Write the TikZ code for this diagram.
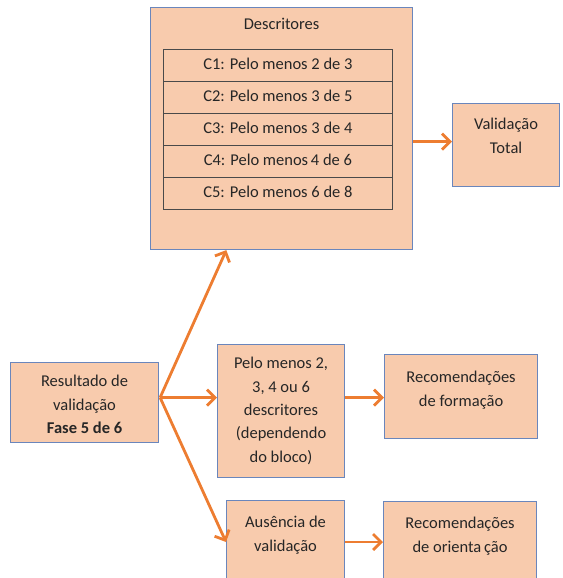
\documentclass[tikz,border=0pt]{standalone}
\usepackage{fontspec}
\setmainfont{Carlito}
\usetikzlibrary{arrows.meta,calc}
\definecolor{boxfill}{HTML}{F8CBAD}
\definecolor{boxline}{HTML}{6A86BC}
\definecolor{arr}{HTML}{ED7D31}
\definecolor{rowline}{HTML}{4A4A4A}
\begin{document}
\begin{tikzpicture}[x=1pt,y=-1pt,
  every node/.style={font=\fontsize{16.5}{23.4}\selectfont, text=black!85},
  box/.style={draw=boxline, line width=1.1pt, fill=boxfill, inner sep=0pt, anchor=north west},
  row/.style={draw=rowline, line width=0.8pt, fill=boxfill, inner sep=0pt, minimum width=229pt, minimum height=32pt, anchor=north west},
  txt/.style={align=center, inner sep=0pt, anchor=north},
  conn/.style={draw=arr, line width=2.8pt, -{Straight Barb[length=8pt,width=16pt,line width=2.8pt]}}
]
\useasboundingbox (0,0) rectangle (562,578);
\clip (0,0) rectangle (562,578);
% boxes
\node[box, minimum width=262pt, minimum height=242pt] (desc) at (150,7) {};
\node[txt] (descT) at ($(desc.north)+(0,11)$) {Descritores};
\node[row] (c1) at (163,49) {\raisebox{3pt}{C1: Pelo menos 2 de 3}};
\node[row] (c2) at (163,81) {\raisebox{3pt}{C2: Pelo menos 3 de 5}};
\node[row] (c3) at (163,113) {\raisebox{3pt}{C3: Pelo menos 3 de 4}};
\node[row] (c4) at (163,145) {\raisebox{3pt}{C4: Pelo menos\,4 de 6}};
\node[row] (c5) at (163,177) {\raisebox{3pt}{C5: Pelo menos 6 de 8}};

\node[box, minimum width=107pt, minimum height=83pt] (val) at (452,103) {};
\node[txt] (valT) at ($(val.north)+(0,15)$) {Validação\\Total};

\node[box, minimum width=148pt, minimum height=80pt] (res) at (10,362) {};
\node[txt] (resT) at ($(res.north)+(0,13)$) {Resultado de\\validação\\\textbf{Fase 5 de 6}};

\node[box, minimum width=127pt, minimum height=133pt] (pelo) at (217,344) {};
\node[txt] (peloT) at ($(pelo.north)+(0,13)$) {Pelo menos 2,\\3, 4 ou 6\\descritores\\(dependendo\\do bloco)};

\node[box, minimum width=153pt, minimum height=84pt] (recf) at (384,354) {};
\node[txt] (recfT) at ($(recf.north)+(0,17)$) {Recomendações\\de formação};

\node[box, minimum width=118pt, minimum height=100pt] (aus) at (226,500) {};
\node[txt] (ausT) at ($(aus.north)+(0,16)$) {Ausência de\\validação};

\node[box, minimum width=153pt, minimum height=100pt] (reco) at (383,501) {};
\node[txt] (recoT) at ($(reco.north)+(0,16)$) {Recomendações\\de orienta\,ção};

% connectors
\coordinate (hub) at ($(res.east)+(1,-5)$);
\coordinate (descin) at ($(desc.south west)!0.29!(desc.south east)$);
\coordinate (descout) at ($(desc.east)+(0,13)$);
\coordinate (valin) at (descout -| val.west);
\coordinate (peloin) at (hub -| pelo.west);
\coordinate (peloout) at (hub -| pelo.east);
\coordinate (recfin) at (hub -| recf.west);
\coordinate (ausin) at ($(aus.north west)+(0,42)$);
\coordinate (ausout) at (ausin -| aus.east);
\coordinate (recoin) at (ausin -| reco.west);
\draw[conn] (hub) -- (descin);
\draw[conn] (hub) -- (peloin);
\draw[conn] (hub) -- (ausin);
\draw[conn] (descout) -- (valin);
\draw[conn] (peloout) -- (recfin);
\draw[conn] (ausout) -- (recoin);
\end{tikzpicture}
\end{document}
